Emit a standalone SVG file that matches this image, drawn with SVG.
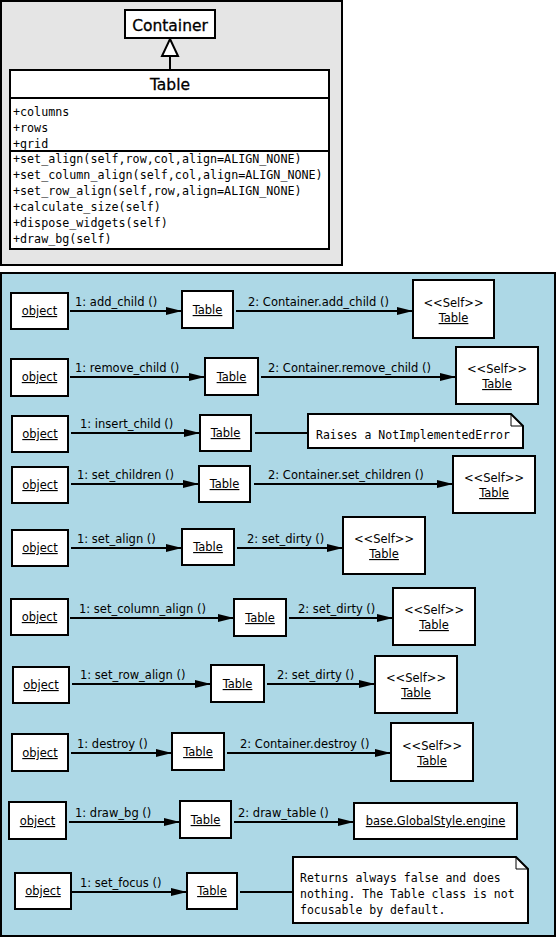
<svg xmlns="http://www.w3.org/2000/svg" width="557" height="939" viewBox="0 0 557 939">
<style>
.box{fill:#fff;stroke:#000;stroke-width:2}
.panel{stroke:#000;stroke-width:2}
.t{font-family:"DejaVu Sans","Liberation Sans",sans-serif;font-size:11.5px;fill:#000}
.c{text-anchor:middle}
.u{text-decoration:underline}
.m{font-family:"DejaVu Sans Mono","Liberation Mono",monospace;font-size:11.5px;fill:#000}
.mt{font-size:11.7px}
.b{font-family:"DejaVu Sans","Liberation Sans",sans-serif;font-size:15.5px;text-anchor:middle;fill:#000;stroke:#000;stroke-width:0.3}
.ln{stroke:#000;stroke-width:2;fill:none}
.ar{marker-end:url(#arr)}
</style>
<defs>
<marker id="arr" markerUnits="userSpaceOnUse" markerWidth="16" markerHeight="8" refX="16" refY="4" orient="auto">
<path d="M0,0 L16,4 L0,8 z" fill="#000"/>
</marker>
<clipPath id="attrClip"><rect x="10" y="99" width="319" height="51"/></clipPath>
</defs>

<!-- top class panel -->
<g id="class-panel">
<rect class="panel" x="1" y="1" width="341" height="264" fill="#e5e5e5"/>
</g>
<g id="container">
<rect class="box" x="125" y="10" width="90" height="28"/>
<text class="b" x="170" y="30.5">Container</text>
</g>
<g id="table-class">
<rect class="box" x="10" y="70" width="319" height="179"/>
<text class="b" x="170" y="90">Table</text>
<line class="ln" x1="10" y1="98" x2="329" y2="98"/>
<g clip-path="url(#attrClip)">
<text class="m mt" x="13" y="116">+columns</text>
<text class="m mt" x="13" y="132">+rows</text>
<text class="m mt" x="13" y="148">+grid</text>
</g>
<line class="ln" x1="10" y1="151" x2="329" y2="151"/>
<text class="m mt" x="13" y="163">+set_align(self,row,col,align=ALIGN_NONE)</text>
<text class="m mt" x="13" y="179">+set_column_align(self,col,align=ALIGN_NONE)</text>
<text class="m mt" x="13" y="195">+set_row_align(self,row,align=ALIGN_NONE)</text>
<text class="m mt" x="13" y="211">+calculate_size(self)</text>
<text class="m mt" x="13" y="227">+dispose_widgets(self)</text>
<text class="m mt" x="13" y="243">+draw_bg(self)</text>
</g>
<g id="inheritance">
<line class="ln" x1="170" y1="56" x2="170" y2="70"/>
<path d="M170,39 L178,56 L162,56 z" fill="#fff" stroke="#000" stroke-width="2"/>
</g>

<!-- lower collaboration panel -->
<g id="collab-panel">
<rect class="panel" x="1" y="273" width="554" height="663" fill="#add8e6"/>
</g>

<g id="connectors">
<!-- row 1 -->
<line class="ln ar" x1="70" y1="311" x2="182" y2="311"/>
<text class="t" x="75" y="306">1: add_child ()</text>
<line class="ln ar" x1="236" y1="311" x2="413" y2="311"/>
<text class="t" x="248" y="306">2: Container.add_child ()</text>
<!-- row 2 -->
<line class="ln ar" x1="70" y1="377" x2="205" y2="377"/>
<text class="t" x="75" y="372">1: remove_child ()</text>
<line class="ln ar" x1="261" y1="377" x2="456" y2="377"/>
<text class="t" x="268" y="372">2: Container.remove_child ()</text>
<!-- row 3 -->
<line class="ln ar" x1="71" y1="433" x2="200" y2="433"/>
<text class="t" x="80" y="428">1: insert_child ()</text>
<line class="ln" x1="255" y1="433" x2="308" y2="433"/>
<!-- row 4 -->
<line class="ln ar" x1="71" y1="484" x2="199" y2="484"/>
<text class="t" x="77" y="479">1: set_children ()</text>
<line class="ln ar" x1="254" y1="484" x2="453" y2="484"/>
<text class="t" x="268" y="479">2: Container.set_children ()</text>
<!-- row 5 -->
<line class="ln ar" x1="71" y1="548" x2="182" y2="548"/>
<text class="t" x="77" y="543">1: set_align ()</text>
<line class="ln ar" x1="237" y1="548" x2="343" y2="548"/>
<text class="t" x="247" y="543">2: set_dirty ()</text>
<!-- row 6 -->
<line class="ln ar" x1="70" y1="618" x2="234" y2="618"/>
<text class="t" x="79" y="613">1: set_column_align ()</text>
<line class="ln ar" x1="289" y1="618" x2="393" y2="618"/>
<text class="t" x="298" y="613">2: set_dirty ()</text>
<!-- row 7 -->
<line class="ln ar" x1="72" y1="684" x2="211" y2="684"/>
<text class="t" x="80" y="679">1: set_row_align ()</text>
<line class="ln ar" x1="267" y1="684" x2="375" y2="684"/>
<text class="t" x="277" y="679">2: set_dirty ()</text>
<!-- row 8 -->
<line class="ln ar" x1="71" y1="753" x2="172" y2="753"/>
<text class="t" x="77" y="748">1: destroy ()</text>
<line class="ln ar" x1="227" y1="753" x2="391" y2="753"/>
<text class="t" x="240" y="748">2: Container.destroy ()</text>
<!-- row 9 -->
<line class="ln ar" x1="69" y1="822" x2="180" y2="822"/>
<text class="t" x="75" y="817">1: draw_bg ()</text>
<line class="ln ar" x1="234" y1="822" x2="354" y2="822"/>
<text class="t" x="238" y="817">2: draw_table ()</text>
<!-- row 10 -->
<line class="ln ar" x1="72" y1="892" x2="187" y2="892"/>
<text class="t" x="80" y="887">1: set_focus ()</text>
<line class="ln" x1="240" y1="892" x2="293" y2="892"/>
</g>

<!-- row 1 -->
<g id="obj1"><rect class="box" x="11" y="293" width="57" height="36"/><text class="t c u" x="39.5" y="315">object</text></g>
<g id="table1"><rect class="box" x="182" y="291" width="51" height="37"/><text class="t c u" x="207.5" y="314">Table</text></g>
<g id="self1"><rect class="box" x="413" y="280" width="81" height="58"/><text class="t c" x="453.5" y="307">&lt;&lt;Self&gt;&gt;</text><text class="t c u" x="453.5" y="322">Table</text></g>
<!-- row 2 -->
<g id="obj2"><rect class="box" x="11" y="359" width="57" height="37"/><text class="t c u" x="39.5" y="381">object</text></g>
<g id="table2"><rect class="box" x="205" y="358" width="53" height="37"/><text class="t c u" x="231.5" y="381">Table</text></g>
<g id="self2"><rect class="box" x="456" y="347" width="82" height="57"/><text class="t c" x="497" y="373">&lt;&lt;Self&gt;&gt;</text><text class="t c u" x="497" y="388">Table</text></g>
<!-- row 3 -->
<g id="obj3"><rect class="box" x="12" y="416" width="56" height="36"/><text class="t c u" x="40" y="438">object</text></g>
<g id="table3"><rect class="box" x="200" y="415" width="51" height="36"/><text class="t c u" x="225.5" y="437">Table</text></g>
<g id="note3"><path d="M308,414 L511,414 L523,426 L523,448 L308,448 z" fill="#fff" stroke="#000" stroke-width="2"/><path d="M511,414 L511,426 L523,426" fill="none" stroke="#000" stroke-width="1"/><text class="m" x="316" y="439">Raises a NotImplementedError</text></g>
<!-- row 4 -->
<g id="obj4"><rect class="box" x="12" y="467" width="56" height="36"/><text class="t c u" x="40" y="489">object</text></g>
<g id="table4"><rect class="box" x="199" y="466" width="51" height="36"/><text class="t c u" x="224.5" y="488">Table</text></g>
<g id="self4"><rect class="box" x="453" y="456" width="82" height="57"/><text class="t c" x="494" y="482">&lt;&lt;Self&gt;&gt;</text><text class="t c u" x="494" y="497">Table</text></g>
<!-- row 5 -->
<g id="obj5"><rect class="box" x="12" y="530" width="56" height="36"/><text class="t c u" x="40" y="552">object</text></g>
<g id="table5"><rect class="box" x="182" y="529" width="52" height="36"/><text class="t c u" x="208" y="551">Table</text></g>
<g id="self5"><rect class="box" x="343" y="517" width="82" height="57"/><text class="t c" x="384" y="543">&lt;&lt;Self&gt;&gt;</text><text class="t c u" x="384" y="558">Table</text></g>
<!-- row 6 -->
<g id="obj6"><rect class="box" x="11" y="599" width="57" height="36"/><text class="t c u" x="39.5" y="621">object</text></g>
<g id="table6"><rect class="box" x="234" y="599" width="52" height="37"/><text class="t c u" x="260" y="622">Table</text></g>
<g id="self6"><rect class="box" x="393" y="588" width="82" height="57"/><text class="t c" x="434" y="614">&lt;&lt;Self&gt;&gt;</text><text class="t c u" x="434" y="629">Table</text></g>
<!-- row 7 -->
<g id="obj7"><rect class="box" x="13" y="667" width="56" height="36"/><text class="t c u" x="41" y="689">object</text></g>
<g id="table7"><rect class="box" x="211" y="665" width="53" height="37"/><text class="t c u" x="237.5" y="688">Table</text></g>
<g id="self7"><rect class="box" x="375" y="656" width="82" height="57"/><text class="t c" x="416" y="682">&lt;&lt;Self&gt;&gt;</text><text class="t c u" x="416" y="697">Table</text></g>
<!-- row 8 -->
<g id="obj8"><rect class="box" x="12" y="734" width="56" height="37"/><text class="t c u" x="40" y="757">object</text></g>
<g id="table8"><rect class="box" x="172" y="733" width="52" height="37"/><text class="t c u" x="198" y="756">Table</text></g>
<g id="self8"><rect class="box" x="391" y="723" width="82" height="58"/><text class="t c" x="432" y="750">&lt;&lt;Self&gt;&gt;</text><text class="t c u" x="432" y="765">Table</text></g>
<!-- row 9 -->
<g id="obj9"><rect class="box" x="9" y="802" width="57" height="37"/><text class="t c u" x="37.5" y="825">object</text></g>
<g id="table9"><rect class="box" x="180" y="801" width="51" height="37"/><text class="t c u" x="205.5" y="824">Table</text></g>
<g id="engine9"><rect class="box" x="354" y="803" width="163" height="36"/><text class="t c u" x="435.5" y="825">base.GlobalStyle.engine</text></g>
<!-- row 10 -->
<g id="obj10"><rect class="box" x="15" y="873" width="56" height="36"/><text class="t c u" x="43" y="895">object</text></g>
<g id="table10"><rect class="box" x="187" y="873" width="50" height="36"/><text class="t c u" x="212" y="895">Table</text></g>
<g id="note10"><path d="M293,857 L516,857 L528,869 L528,923 L293,923 z" fill="#fff" stroke="#000" stroke-width="2"/><path d="M516,857 L516,869 L528,869" fill="none" stroke="#000" stroke-width="1"/>
<text class="m" x="300" y="882">Returns always false and does</text>
<text class="m" x="300" y="898">nothing. The Table class is not</text>
<text class="m" x="300" y="914">focusable by default.</text></g>
</svg>
